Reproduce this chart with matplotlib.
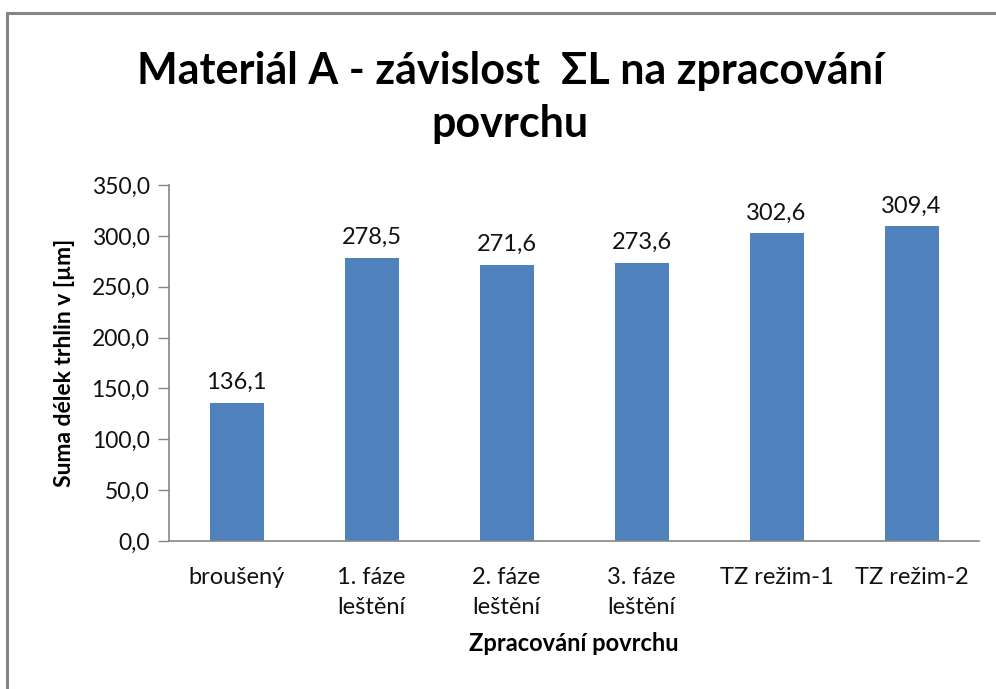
import matplotlib.pyplot as plt
from matplotlib.patches import Rectangle
from matplotlib.ticker import FuncFormatter

# data
categories = ["broušený", "1. fáze\nleštění", "2. fáze\nleštění",
              "3. fáze\nleštění", "TZ režim-1", "TZ režim-2"]
values = [136.1, 278.5, 271.6, 273.6, 302.6, 309.4]
y_ticks = [0, 50, 100, 150, 200, 250, 300, 350]

bar_color = "#4F81BD"
axis_color = "#868686"

plt.rcParams["font.family"] = ["Lato", "DejaVu Sans"]

fig = plt.figure(figsize=(9.96, 6.89), dpi=100)
ax = fig.add_axes([0.1697, 0.2148, 0.8133, 0.5167])

# chart border (only top and left edges are inside the picture)
fig.patches.append(Rectangle((7 / 996, -0.1), 1.2, (689 - 13) / 689 + 0.1,
                             transform=fig.transFigure, fill=False,
                             edgecolor=axis_color, linewidth=2.2))

x = range(len(categories))
bars = ax.bar(x, values, width=0.4, color=bar_color, zorder=2)

for b, v in zip(bars, values):
    ax.annotate(f"{v:.1f}".replace(".", ","),
                (b.get_x() + b.get_width() / 2, v),
                xytext=(0, 7), textcoords="offset points",
                ha="center", va="bottom", fontsize=17, color="#111111")

ax.set_xlim(-0.5, len(categories) - 0.5)
ax.set_ylim(0, 350)
ax.set_yticks(y_ticks)
ax.yaxis.set_major_formatter(FuncFormatter(lambda v, p: f"{v:.1f}".replace(".", ",")))
ax.set_xticks(list(x))
ax.set_xticklabels(categories, fontsize=17, color="#111111", linespacing=1.5)
ax.tick_params(axis="x", length=0, pad=19)
ax.tick_params(axis="y", length=8, width=1, color=axis_color,
               labelsize=16.5, labelcolor="#111111", pad=6)

for side in ("top", "right"):
    ax.spines[side].set_visible(False)
for side in ("left", "bottom"):
    ax.spines[side].set_color(axis_color)
    ax.spines[side].set_linewidth(1.2)

ax.set_ylabel("Suma délek trhlin v [µm]", fontsize=16.5, fontweight="bold",
              labelpad=12)
ax.set_xlabel("Zpracování povrchu", fontsize=17, fontweight="bold",
              labelpad=10)

fig.text(0.512, 0.858, "Materiál A - závislost  ΣL na zpracování\npovrchu",
         ha="center", va="center", fontsize=31, fontweight="bold",
         linespacing=1.4)

fig.savefig("out.png", dpi=100)
